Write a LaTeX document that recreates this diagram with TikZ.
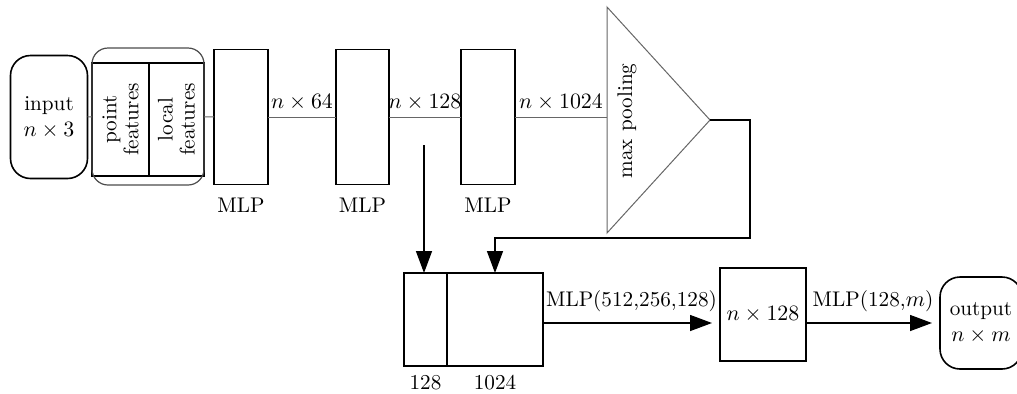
\documentclass[tikz,border=0pt]{standalone}
\usepackage{amsmath,amssymb}
\usepackage{tikz}
\usetikzlibrary{arrows.meta,positioning,calc,fit}

\begin{document}
\begin{tikzpicture}[
  x=0.5pt, y=-0.5pt,
  node distance=3pt and 8pt,
  font=\fontsize{10.6}{11}\selectfont,
  box/.style={draw, line width=0.8pt, inner sep=0pt, outer sep=0pt, align=center},
  rbox/.style={box, rounded corners=10pt, font=\fontsize{10.6}{13}\selectfont},
  vbox/.style={box, rotate=90},
  link/.style={draw=black!60, line width=0.5pt},
  arr/.style={-{Triangle[length=11pt,width=8pt]}, line width=0.7pt}
]
\useasboundingbox (0,0) rectangle (1017,393);

% top row
\node[rbox, minimum width=38.5pt, minimum height=61.5pt] (input) at (49,117) {input\\$n\times 3$};
\node[vbox, minimum width=56.5pt, minimum height=28.5pt] (pf) at (120.5,119.5) {point\\features};
\node[vbox, minimum width=56.5pt, minimum height=27.5pt] (lf) at (176.5,119.5) {local\\features};
\node[box, rounded corners=8pt, draw=black!70, line width=0.6pt,
      minimum width=56pt, minimum height=68.5pt] (feat) at (148,116.5) {};
\node[box, minimum width=27pt, minimum height=67.5pt] (mlp1) at (241,117) {};
\node[box, minimum width=26.5pt, minimum height=67.5pt] (mlp2) at (362.5,117) {};
\node[box, minimum width=27pt, minimum height=67.5pt] (mlp3) at (488,117) {};
\node[below=of mlp1] (mlp1lab) {MLP};
\node[below=of mlp2] (mlp2lab) {MLP};
\node[below=of mlp3] (mlp3lab) {MLP};

% max pooling
\coordinate (pooltop) at (607,7);
\coordinate (poolout) at (710,120);
\coordinate (poolbot) at (607,233);
\coordinate (poolin) at (607,117);
\draw[link] (pooltop) -- (poolout) -- (poolbot) -- cycle;
\node[rotate=90] (pool) at (627,121) {max pooling};

\draw[link] (input) -- (feat);
\draw[link] (feat) -- (mlp1);
\draw[link] (mlp1) -- node[above] (l64) {$n\times 64$} (mlp2);
\draw[link] (mlp2) -- node[above] (l128) {$n\times 128$} (mlp3);
\draw[link] (mlp3) -- node[above] (l1024) {$n\times 1024$} (poolin);

% bottom row
\node[box, minimum width=21.5pt, minimum height=46.5pt] (cat128) at (425.5,319.5) {};
\node[box, minimum width=48pt, minimum height=46.5pt, right=0pt of cat128] (cat1024) {};
\node[below=1pt of cat128] (cat128lab) {128};
\node[below=1pt of cat1024] (cat1024lab) {1024};
\node[box, minimum width=43pt, minimum height=46.5pt] (mid) at (763,314.5) {$n\times 128$};
\node[rbox, minimum width=41pt, minimum height=46pt] (output) at (981,323) {output\\$n\times m$};

% skip and global feature
\coordinate (skip) at (424,145);
\coordinate (fbcorner) at (750,238);
\coordinate (fbturn) at (495,238);
\draw[arr] (skip) -- (skip |- cat128.north);
\draw[arr] (poolout) -| (fbcorner) -- (fbturn) -- (fbturn |- cat1024.north);

\draw[arr, shorten >=4pt] (cat1024.east |- output.west) -- node[above=2pt] (lmlpa) {MLP(512,256,128)} (mid.west |- output.west);
\draw[arr, shorten >=4pt] (mid.east |- output.west) -- node[above=2pt] (lmlpb) {MLP(128,$m$)} (output.west);
\end{tikzpicture}
\end{document}
